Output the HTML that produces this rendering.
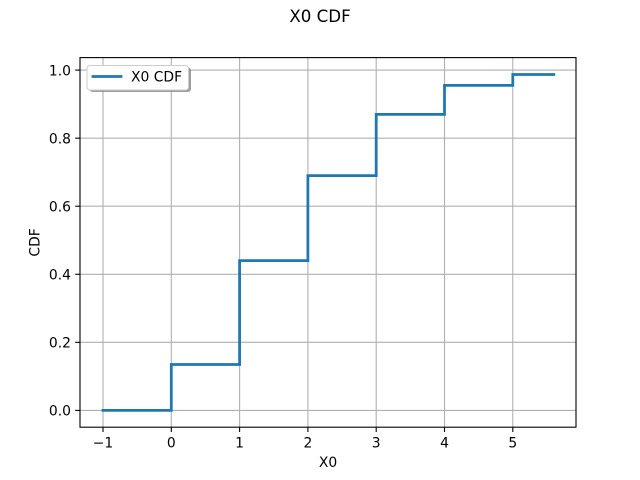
<!DOCTYPE html>
<html>
<head>
<meta charset="utf-8">
<style>
html,body{margin:0;padding:0;background:#fff;width:640px;height:480px;overflow:hidden}
svg{display:block}
text{font-family:"DejaVu Sans",sans-serif;fill:#000}
</style>
</head>
<body>
<svg id="chart" width="640" height="480" viewBox="0 0 640 480" xmlns="http://www.w3.org/2000/svg">
<rect x="0" y="0" width="640" height="480" fill="#fff"/>
<text x="320" y="22" font-size="16.67" text-anchor="middle">X0 CDF</text>
<g id="grid"></g>
<path id="cdf" fill="none" stroke="#1f77b4" stroke-width="2.78" stroke-linejoin="miter" stroke-linecap="square"/>
<g id="ticks"></g>
<rect x="80" y="57.6" width="496" height="369.6" fill="none" stroke="#000" stroke-width="1.1"/>
<text x="328" y="467" font-size="13.89" text-anchor="middle">X0</text>
<text x="0" y="0" font-size="13.89" text-anchor="middle" transform="translate(39.5,242.4) rotate(-90)">CDF</text>
<g>
<rect x="89.5" y="67.5" width="101.5" height="24.5" rx="3" fill="#7f7f7f" fill-opacity="0.75"/>
<rect x="87" y="65.5" width="101.5" height="24.5" rx="3" fill="#fff" stroke="#ccc" stroke-width="1"/>
<line x1="93" y1="76.5" x2="121" y2="76.5" stroke="#1f77b4" stroke-width="2.78" stroke-linecap="square"/>
<text x="131" y="81.5" font-size="13.89">X0 CDF</text>
</g>
</svg>
<script>
const xTicks = [-1, 0, 1, 2, 3, 4, 5];
const yTicks = [0.0, 0.2, 0.4, 0.6, 0.8, 1.0];
const stepX = [-1, 0, 1, 2, 3, 4, 5, 5.6];
const stepY = [0, 0.135, 0.44, 0.69, 0.87, 0.955, 0.987];

const xAxis = v => 171.3 + (v * 68.3);
const yAxis = v => 410.4 - (v * 340.3);
const NS = 'http://www.w3.org/2000/svg';
const gridG = document.getElementById('grid');
const tickG = document.getElementById('ticks');

function mk(tag, attrs, parent) {
  const el = document.createElementNS(NS, tag);
  for (const k in attrs) el.setAttribute(k, attrs[k]);
  parent.appendChild(el);
  return el;
}

xTicks.forEach(t => {
  const x = xAxis(t);
  const g = mk('line', {x1: x, x2: x, y1: 57.6, y2: 427.2, stroke: '#b0b0b0', 'stroke-width': 1.1}, gridG);
  
  
  const m = mk('line', {x1: x, x2: x, y1: 427.2, y2: 432, stroke: '#000', 'stroke-width': 1.1}, tickG);
  
  
  const l = mk('text', {x: x, y: 447.5, 'font-size': 13.89, 'text-anchor': 'middle'}, tickG);
  
  
  l.textContent = t < 0 ? '\u2212' + Math.abs(t) : String(t);
});

yTicks.forEach(t => {
  const y = yAxis(t);
  const g = mk('line', {x1: 80, x2: 576, y1: y, y2: y, stroke: '#b0b0b0', 'stroke-width': 1.1}, gridG);
  
  
  const m = mk('line', {x1: 75.2, x2: 80, y1: y, y2: y, stroke: '#000', 'stroke-width': 1.1}, tickG);
  
  
  const l = mk('text', {x: 71, y: y + 5.3, 'font-size': 13.89, 'text-anchor': 'end'}, tickG);
  
  
  l.textContent = t.toFixed(1);
});

let d = 'M' + xAxis(stepX[0]) + ' ' + yAxis(stepY[0]);
stepY.forEach((v, i) => {
  if (i > 0) d += ' L' + xAxis(stepX[i]) + ' ' + yAxis(v);
  d += ' L' + xAxis(stepX[i + 1]) + ' ' + yAxis(v);
});
document.getElementById('cdf').setAttribute('d', d);
</script>
</body>
</html>
